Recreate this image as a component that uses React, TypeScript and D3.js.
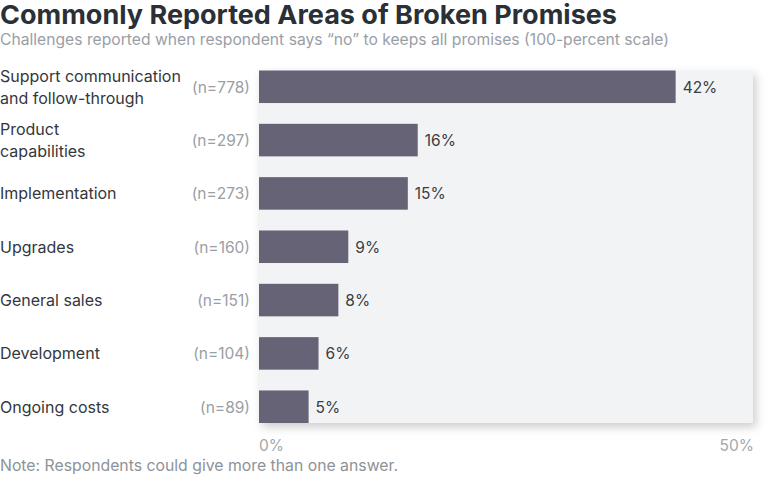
import { useEffect } from 'react';
import * as d3 from 'd3';

const categories = [
  ['Support communication', 'and follow-through'],
  ['Product', 'capabilities'],
  ['Implementation'],
  ['Upgrades'],
  ['General sales'],
  ['Development'],
  ['Ongoing costs'],
];
const counts = [778, 297, 273, 160, 151, 104, 89];
const shares = [42, 16, 15, 9, 8, 6, 5];
const xTicks = [0, 50];

const width = 768;
const height = 486;
const plotLeft = 259;
const plotRight = 755;
const plotTop = 70.5;
const plotBottom = 423;

export default function App() {
  useEffect(() => {
    document.body.style.margin = '0';
  }, []);

  const keys = categories.map(c => c.join(' '));
  const x = d3.scaleLinear().domain([0, 50]).range([plotLeft, plotRight]);
  const y = d3.scaleBand<string>().domain(keys).range([plotTop, plotBottom]).paddingInner(0.39).paddingOuter(0);
  const bw = y.bandwidth();
  const font = 'Inter, "Noto Sans", sans-serif';

  return (
    <svg width={width} height={height} style={{ display: 'block', background: '#fff' }}>
      <defs>
        <filter id="shadow" x="-10%" y="-10%" width="130%" height="130%">
          <feDropShadow dx="3" dy="4" stdDeviation="5" floodColor="#000" floodOpacity="0.2" />
        </filter>
      </defs>

      <text x={0} y={24} textLength={617} lengthAdjust="spacingAndGlyphs" fontFamily={font} fontWeight={700} fontSize={26} fill="#2b2f36">
        Commonly Reported Areas of Broken Promises
      </text>
      <text x={0} y={45} textLength={669} lengthAdjust="spacingAndGlyphs" fontFamily={font} fontSize={15.5} fill="#9a9ea5">
        Challenges reported when respondent says “no” to keeps all promises (100-percent scale)
      </text>

      {/* panel */}
      <rect x={plotLeft} y={plotTop} width={753 - plotLeft} height={plotBottom - plotTop} fill="#f2f3f5" filter="url(#shadow)" />

      {keys.map((k, i) => {
        const yc = (y(k) ?? 0) + bw / 2;
        const lines = categories[i];
        return (
          <g key={k}>
            <rect x={x(0)} y={y(k)} width={x(shares[i]) - x(0)} height={bw} fill="#656375" />
            <text x={x(shares[i]) + 7} y={yc + 6} fontFamily={font} fontSize={15.5} fill="#3a3d42">
              {shares[i]}%
            </text>
            <text x={250} y={yc + 6} textAnchor="end" fontFamily={font} fontSize={15.5} fill="#9a9ea5">
              (n={counts[i]})
            </text>
            {lines.map((line, j) => (
              <text key={j} x={0} y={yc + 6 + (j - (lines.length - 1) / 2) * 22} fontFamily={font} fontSize={16} fill="#33373e">
                {line}
              </text>
            ))}
          </g>
        );
      })}

      {xTicks.map((t, i) => (
        <text key={t} x={i === 0 ? x(t) : x(t) - 1} y={451} textAnchor={i === 0 ? 'start' : 'end'} fontFamily={font} fontSize={15.5} fill="#a3a7ad">
          {t}%
        </text>
      ))}

      <text x={0} y={471} textLength={398} lengthAdjust="spacingAndGlyphs" fontFamily={font} fontSize={15.8} fill="#8e9299">
        Note: Respondents could give more than one answer.
      </text>
    </svg>
  );
}
